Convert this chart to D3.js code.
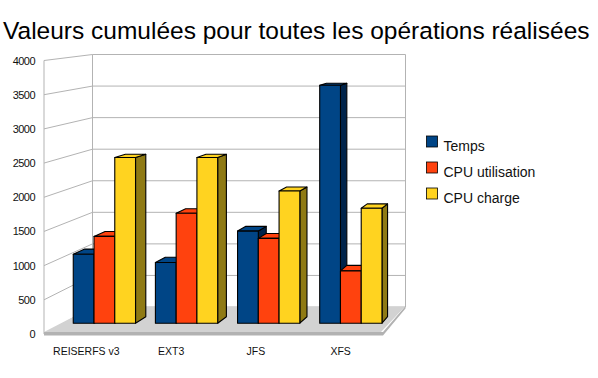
<!DOCTYPE html>
<html>
<head>
<meta charset="utf-8">
<style>
  html, body { margin: 0; padding: 0; background: #fff; }
  svg { display: block; font-family: "Liberation Sans", sans-serif; }
</style>
<script src="https://cdnjs.cloudflare.com/ajax/libs/d3/7.8.5/d3.min.js"></script>
</head>
<body>
<svg id="chart" width="598" height="378"></svg>
<script>
const categories = ['REISERFS v3', 'EXT3', 'JFS', 'XFS']
const seriesNames = ['Temps', 'CPU utilisation', 'CPU charge']
const temps = [1040, 915, 1390, 3590]
const cpuUtilisation = [1310, 1660, 1280, 790]
const cpuCharge = [2500, 2500, 1995, 1735]
const yTicks = [0, 500, 1000, 1500, 2000, 2500, 3000, 3500, 4000]

const seriesValues = [temps, cpuUtilisation, cpuCharge]
const colors = ['#004586', '#ff420e', '#ffd320']
const sideColors = ['#00234a', '#8a2408', '#8f7a14']

const svg = d3.select('#chart')

// the chart is a box in perspective: front plane and back wall have their own scales
const yFront = d3.scaleLinear().domain([0, 4000]).range([334, 60.5])
const yBack = d3.scaleLinear().domain([0, 4000]).range([307, 54.5])
const xFront = d3.scaleLinear().domain([0, 1]).range([44, 383])
const xBack = d3.scaleLinear().domain([0, 1]).range([92.5, 405.5])

// w is the depth, 0 = front plane, 1 = back wall
function project(u, v, w) {
  return [
    xFront(u) + (xBack(u) - xFront(u)) * w,
    yFront(v) + (yBack(v) - yFront(v)) * w
  ]
}
const pts = list => list.map(p => p.join(',')).join(' ')

const barFront = 0.4
const barBack = 0.64

const categoryBand = d3.scaleBand().domain(categories).range([0, 1])
const seriesBand = d3.scaleBand().domain(seriesNames).range([0.12, 0.878])

const grid = svg.append('g')
  .attr('fill', 'none')
  .attr('stroke', '#b3b3b3')
  .attr('stroke-width', 1)

grid.selectAll('polyline')
  .data(yTicks)
  .enter()
  .append('polyline')
  .attr('points', d => pts([project(0, d, 0), project(0, d, 1), project(1, d, 1)]))

grid.append('line')
  .attr('x1', xFront(0)).attr('x2', xFront(0))
  .attr('y1', yFront(0)).attr('y2', yFront(4000))
grid.append('line')
  .attr('x1', xBack(0)).attr('x2', xBack(0))
  .attr('y1', yBack(0)).attr('y2', yBack(4000))
grid.append('line')
  .attr('x1', xBack(1)).attr('x2', xBack(1))
  .attr('y1', yBack(0)).attr('y2', yBack(4000))

// floor: thin slab under the bars
const floor = svg.append('g')
floor.append('polygon')
  .attr('points', pts([
    [xFront(0), yFront(0) - 2], [xFront(0), yFront(0) + 1.5], [xFront(1), yFront(0) + 1.5],
    [xBack(1), yBack(0) + 1.5], [xBack(1), yBack(0) - 1], [xFront(1), yFront(0) - 2]
  ]))
  .attr('fill', '#b2b2b2')
floor.append('polygon')
  .attr('points', pts([
    [xFront(0), yFront(0) - 2], [xFront(1) - 2, yFront(0) - 2], [xBack(1) - 1, yBack(0)], [xBack(0), yBack(0)]
  ]))
  .attr('fill', '#d2d2d2')

// bars, drawn left to right so each one covers the side of the previous
const bars = []
categories.forEach((c, i) => {
  seriesNames.forEach((s, j) => {
    const u0 = categoryBand(c) + seriesBand(s) * categoryBand.bandwidth()
    const u1 = u0 + seriesBand.bandwidth() * categoryBand.bandwidth()
    bars.push({ u0, u1, v: seriesValues[j][i], j })
  })
})

const barGroups = svg.append('g')
  .selectAll('g')
  .data(bars)
  .enter()
  .append('g')
  .attr('stroke', '#000')
  .attr('stroke-width', 1.1)
  .attr('stroke-linejoin', 'round')

barGroups.append('polygon')
  .attr('fill', d => sideColors[d.j])
  .attr('points', d => pts([
    project(d.u1, 0, barFront), project(d.u1, 0, barBack),
    project(d.u1, d.v, barBack), project(d.u1, d.v, barFront)
  ]))
barGroups.append('polygon')
  .attr('fill', d => colors[d.j])
  .attr('points', d => pts([
    project(d.u0, d.v, barFront), project(d.u0, d.v, barBack),
    project(d.u1, d.v, barBack), project(d.u1, d.v, barFront)
  ]))
barGroups.append('polygon')
  .attr('fill', d => colors[d.j])
  .attr('points', d => pts([
    project(d.u0, 0, barFront), project(d.u1, 0, barFront),
    project(d.u1, d.v, barFront), project(d.u0, d.v, barFront)
  ]))

// axes
const yAxis = d3.axisLeft(yFront).tickValues(yTicks).tickFormat(d3.format('d')).tickSize(0).tickPadding(9)
svg.append('g')
  .attr('transform', `translate(${xFront(0)},0)`)
  .call(yAxis)
  .call(g => g.select('.domain').remove())
  .selectAll('text')
  .attr('font-family', '"Liberation Sans", sans-serif')
  .attr('font-size', 11)
  .attr('letter-spacing', -0.55)
  .attr('fill', '#111')

const xAxisScale = d3.scaleBand().domain(categories).range([xFront(0), xFront(1)])
const xAxis = d3.axisBottom(xAxisScale).tickSize(0).tickPadding(14)
svg.append('g')
  .attr('transform', `translate(0,${yFront(0)})`)
  .call(xAxis)
  .call(g => g.select('.domain').remove())
  .selectAll('text')
  .attr('font-family', '"Liberation Sans", sans-serif')
  .attr('font-size', 10.5)
  .attr('fill', '#111')

// title
svg.append('text')
  .attr('x', 3)
  .attr('y', 39)
  .attr('font-size', 24.5)
  .attr('fill', '#000')
  .text('Valeurs cumulées pour toutes les opérations réalisées')

// legend
const legendY = d3.scalePoint().domain(seriesNames).range([136, 188])
const legend = svg.append('g')
  .selectAll('g')
  .data(seriesNames)
  .enter()
  .append('g')
  .attr('transform', d => `translate(426.5,${legendY(d)})`)
legend.append('rect')
  .attr('width', 11)
  .attr('height', 11)
  .attr('fill', (_, i) => colors[i])
  .attr('stroke', '#000')
  .attr('stroke-width', 0.8)
legend.append('text')
  .attr('x', 17)
  .attr('y', 14.5)
  .attr('font-size', 14)
  .attr('fill', '#111')
  .text(d => d)
</script>
</body>
</html>
